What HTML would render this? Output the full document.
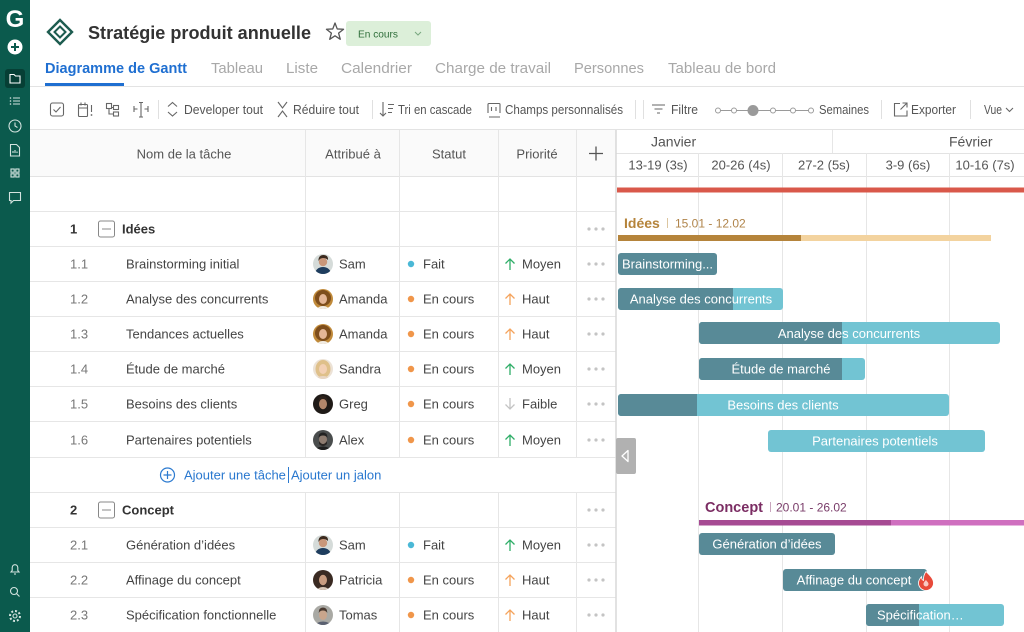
<!DOCTYPE html>
<html><head><meta charset="utf-8">
<style>
html,body{margin:0;padding:0;width:1024px;height:632px;overflow:hidden;background:#fff}
svg{display:block}
text{font-family:"Liberation Sans",sans-serif}
</style></head><body>
<svg width="1024" height="632" viewBox="0 0 1024 632" xmlns="http://www.w3.org/2000/svg">
<defs>
<clipPath id="av"><circle cx="0" cy="0" r="10"/></clipPath>
<g id="sam"><g clip-path="url(#av)"><rect x="-10" y="-10" width="20" height="20" fill="#d5dbd9"/><ellipse cx="0" cy="10" rx="8" ry="7" fill="#1e3d5e"/><circle cx="0" cy="-2" r="4.2" fill="#c9977a"/><path d="M-4.6 -3 q0 -6 5 -6 q5 0 4.6 5 q-2 -2 -5 -2 q-3 0 -4.6 3z" fill="#3b2a1e"/></g></g>
<g id="amanda"><g clip-path="url(#av)"><rect x="-10" y="-10" width="20" height="20" fill="#c08a3a"/><circle cx="0" cy="-1" r="8" fill="#7e4e1c"/><ellipse cx="0" cy="0" rx="4" ry="5" fill="#e4b696"/><ellipse cx="0" cy="11" rx="6" ry="4" fill="#f1ece4"/></g></g>
<g id="sandra"><g clip-path="url(#av)"><rect x="-10" y="-10" width="20" height="20" fill="#ece2d6"/><ellipse cx="0" cy="0" rx="7.5" ry="9" fill="#dfc08a"/><ellipse cx="0" cy="0" rx="4" ry="5" fill="#f3d0b4"/><ellipse cx="0" cy="11" rx="7" ry="4" fill="#e8d6c4"/></g></g>
<g id="greg"><g clip-path="url(#av)"><rect x="-10" y="-10" width="20" height="20" fill="#1f1a17"/><ellipse cx="0" cy="0" rx="4" ry="5.2" fill="#b2866a"/><path d="M-4.5 -2 q0 -6 4.5 -6 q4.5 0 4.5 6 q-1.5 -3 -4.5 -3 q-3 0 -4.5 3z" fill="#2e221b"/></g></g>
<g id="alex"><g clip-path="url(#av)"><rect x="-10" y="-10" width="20" height="20" fill="#4a4d4d"/><ellipse cx="0" cy="-0.5" rx="4" ry="5" fill="#8e7c70"/><path d="M-4 1 q4 6 8 0 v3 q-4 4 -8 0z" fill="#2a2624"/><path d="M-4.5 -2 q0 -5.5 4.5 -5.5 q4.5 0 4.5 5.5 q-1.5 -2.5 -4.5 -2.5 q-3 0 -4.5 2.5z" fill="#222"/><ellipse cx="0" cy="11" rx="8" ry="4.5" fill="#1e1e1e"/></g></g>
<g id="patricia"><g clip-path="url(#av)"><rect x="-10" y="-10" width="20" height="20" fill="#3a2a22"/><ellipse cx="0" cy="0" rx="4" ry="5.2" fill="#c99c80"/><ellipse cx="0" cy="11" rx="6" ry="4" fill="#d8c6b6"/></g></g>
<g id="tomas"><g clip-path="url(#av)"><rect x="-10" y="-10" width="20" height="20" fill="#a9a9a4"/><ellipse cx="0" cy="0" rx="4" ry="5" fill="#c9a58c"/><path d="M-4.3 -2 q0 -5.5 4.3 -5.5 q4.3 0 4.3 5.5 q-1.5 -2.5 -4.3 -2.5 q-3 0 -4.3 2.5z" fill="#4a3a30"/><ellipse cx="0" cy="11" rx="8" ry="4.5" fill="#5a6070"/></g></g>
</defs>

<!-- Sidebar -->
<rect x="0" y="0" width="30" height="632" fill="#0b5a4d"/>
<text x="15" y="27" font-size="24" font-weight="bold" fill="#fff" text-anchor="middle">G</text>
<circle cx="15" cy="47" r="7.5" fill="#fff"/>
<path d="M11 47h8M15 43v8" stroke="#0b5a4d" stroke-width="2"/>
<rect x="5" y="69" width="20" height="19" rx="3" fill="#063f35"/>
<path d="M10 74.5h4l1.5 1.5H20v7H10z" fill="none" stroke="#fff" stroke-width="1.1"/>
<g fill="none" stroke="#d3e3df" stroke-width="1.1">
<path d="M13 98h7M13 101h7M13 104h7"/>
<circle cx="15" cy="126" r="6"/><path d="M15 122.5V126l2.5 1.5"/>
<path d="M10.5 144.5h6l3 3v8.5h-9z"/><path d="M13 153v-2M15 153v-3M17 153v-1.5"/>
<rect x="11" y="169" width="3.2" height="3.2"/><rect x="15.8" y="169" width="3.2" height="3.2"/><rect x="11" y="173.8" width="3.2" height="3.2"/><rect x="15.8" y="173.8" width="3.2" height="3.2"/>
<path d="M9.5 192.5h11v8h-7l-2.5 2.5v-2.5h-1.5z"/>
<path d="M11 572h8l-1.2-1.5v-3a2.8 2.8 0 0 0-5.6 0v3z"/><path d="M14 574h2"/>
<circle cx="14" cy="591" r="3.5"/><path d="M16.5 593.5l3 3"/>
<circle cx="15" cy="616" r="2"/><circle cx="15" cy="616" r="5" stroke-width="2" stroke-dasharray="2 1.9"/>
</g>
<g fill="#d3e3df"><circle cx="10.5" cy="98" r=".8"/><circle cx="10.5" cy="101" r=".8"/><circle cx="10.5" cy="104" r=".8"/></g>

<!-- Header -->
<path d="M60 20 L72 32 L60 44 L48 32 Z" fill="none" stroke="#1d5c50" stroke-width="2.4"/>
<path d="M60 26.5 L65.5 32 L60 37.5 L54.5 32 Z" fill="none" stroke="#1d5c50" stroke-width="2"/>
<text x="88" y="39" font-size="18.5" font-weight="bold" fill="#333" textLength="223" lengthAdjust="spacingAndGlyphs">Stratégie produit annuelle</text>
<polygon points="335,23 337.23,28.93 343.56,29.22 338.61,33.17 340.29,39.28 335,35.8 329.71,39.28 331.39,33.17 326.44,29.22 332.77,28.93" fill="none" stroke="#555" stroke-width="1.3" stroke-linejoin="round"/>
<rect x="346" y="21" width="85" height="25" rx="3" fill="#dcefd9"/>
<text x="358" y="37.5" font-size="10.5" fill="#2f6e3a" textLength="40" lengthAdjust="spacingAndGlyphs">En cours</text>
<path d="M415 32l3 3 3-3" stroke="#7aa880" fill="none" stroke-width="1"/>

<!-- Tabs -->
<text x="45" y="73" font-size="14.5" font-weight="bold" fill="#1f6fd1" textLength="142" lengthAdjust="spacingAndGlyphs">Diagramme de Gantt</text>
<g font-size="15" fill="#a8a8a8">
<text x="211" y="73" textLength="52" lengthAdjust="spacingAndGlyphs">Tableau</text>
<text x="286" y="73" textLength="32" lengthAdjust="spacingAndGlyphs">Liste</text>
<text x="341" y="73" textLength="71" lengthAdjust="spacingAndGlyphs">Calendrier</text>
<text x="435" y="73" textLength="116" lengthAdjust="spacingAndGlyphs">Charge de travail</text>
<text x="574" y="73" textLength="70" lengthAdjust="spacingAndGlyphs">Personnes</text>
<text x="668" y="73" textLength="108" lengthAdjust="spacingAndGlyphs">Tableau de bord</text>
</g>
<rect x="45" y="83" width="79" height="3" fill="#1f6fd1"/>
<path d="M30 86.5H1024" stroke="#e3e3e3"/>

<!-- Toolbar -->
<g fill="none" stroke="#666" stroke-width="1.1">
<rect x="50.5" y="103" width="13" height="13" rx="2"/><path d="M53.5 109.5l2.5 2.5l4.5-5"/>
<rect x="78.5" y="104.5" width="9" height="12" rx="1"/><path d="M81 102.5v3M85 102.5v3M78.5 108h9M91.5 105v7"/>
<rect x="106.5" y="103.5" width="5" height="5"/><rect x="113.5" y="105.5" width="5" height="4"/><rect x="113.5" y="112" width="5" height="4"/><path d="M109 108.5v5.5h4.5M111.5 107.5h2"/>
<path d="M134 106v6M134 109h3.5M141 102.5v14.5M139 102.5h4M139 117h4M148 106v6M144.5 109h3.5"/>
<path d="M168 106.5l4.5-4l4.5 4M168 112l4.5 4l4.5-4"/>
<path d="M278 102l4.5 6l4.5-6M278 117l4.5-6l4.5 6"/>
<path d="M383 102v14M380 113l3 3l3-3M388 104.5h6M388 108.5h5M388 112.5h4"/>
<path d="M488 113v-8.5q0-1 1-1h10q1 0 1 1v8.5M491.5 107v4M496 107v4M489 117h11" />
<path d="M652 105h13M654.5 109h8M657 113h3"/>
<path d="M900 103.5h-5.5v12.5h12.5v-5.5M900.5 109.5l6.5-6.5M902.5 103h4.5v4.5"/>
<path d="M1006 108l3.5 3.5l3.5-3.5"/>
</g>
<circle cx="91.5" cy="115" r=".9" fill="#666"/>
<g stroke="#e0e0e0"><path d="M158.5 100v19M372.5 100v19M635.5 100v19M643.5 100v19M881.5 100v19M970.5 100v19"/></g>
<path d="M716 110.5H812" stroke="#9a9a9a" stroke-width="1"/>
<g fill="#fff" stroke="#9a9a9a" stroke-width="1"><circle cx="718" cy="110.5" r="2.5"/><circle cx="734" cy="110.5" r="2.5"/><circle cx="773" cy="110.5" r="2.5"/><circle cx="793" cy="110.5" r="2.5"/><circle cx="811" cy="110.5" r="2.5"/></g>
<circle cx="753" cy="110.5" r="5.5" fill="#9a9a9a"/>
<g font-size="12.5" fill="#555">
<text x="184" y="114" textLength="79" lengthAdjust="spacingAndGlyphs">Developer tout</text>
<text x="293" y="114" textLength="66" lengthAdjust="spacingAndGlyphs">Réduire tout</text>
<text x="398" y="114" textLength="74" lengthAdjust="spacingAndGlyphs">Tri en cascade</text>
<text x="505" y="114" textLength="118" lengthAdjust="spacingAndGlyphs">Champs personnalisés</text>
<text x="671" y="114" textLength="27" lengthAdjust="spacingAndGlyphs">Filtre</text>
<text x="819" y="114" textLength="50" lengthAdjust="spacingAndGlyphs">Semaines</text>
<text x="911" y="114" textLength="45" lengthAdjust="spacingAndGlyphs">Exporter</text>
<text x="984" y="114" textLength="18" lengthAdjust="spacingAndGlyphs">Vue</text>
</g>

<!-- Table header -->
<rect x="30" y="130" width="586" height="47" fill="#fafafa"/>
<path d="M30 129.5H1024M30 176.5H1024M616 153.5H1024" stroke="#e3e3e3"/>
<g font-size="13" fill="#555" text-anchor="middle">
<text x="184" y="158.5">Nom de la tâche</text>
<text x="353" y="158.5">Attribué à</text>
<text x="449" y="158.5">Statut</text>
<text x="537" y="158.5">Priorité</text>
</g>
<path d="M589 153.5h14M596 146.5v14" stroke="#555" stroke-width="1.3"/>
<g font-size="14" fill="#555"><text x="651" y="146.5">Janvier</text><text x="949" y="146.5">Février</text></g>
<g font-size="13" fill="#555" text-anchor="middle">
<text x="658" y="169.5">13-19 (3s)</text>
<text x="741" y="169.5">20-26 (4s)</text>
<text x="824" y="169.5">27-2 (5s)</text>
<text x="908" y="169.5">3-9 (6s)</text>
<text x="985" y="169.5">10-16 (7s)</text>
</g>

<!-- Grid lines -->
<g stroke="#e6e6e6" stroke-width="1">
<path d="M30 211.5H616M30 246.5H616M30 281.5H616M30 316.5H616M30 351.5H616M30 386.5H616M30 421.5H616M30 457.5H616M30 492.5H616M30 527.5H616M30 562.5H616M30 597.5H616"/>
<path d="M305.5 130V457M399.5 130V457M498.5 130V457M576.5 130V457M305.5 493V632M399.5 493V632M498.5 493V632M576.5 493V632"/>
<path d="M832.5 130V153M698.5 153V632M782.5 153V632M866.5 153V632M949.5 153V632"/>
</g>
<path d="M616 130V632" stroke="#d8d8d8" stroke-width="1.5"/>

<!-- Group rows -->
<g font-size="13" font-weight="bold" fill="#333">
<text x="70" y="233.5">1</text><text x="122" y="233.5">Idées</text>
<text x="70" y="514.5">2</text><text x="122" y="514.5">Concept</text>
</g>
<g fill="none" stroke="#888" stroke-width="1">
<rect x="98.5" y="221" width="16" height="16" rx="2"/><path d="M102 229h9"/>
<rect x="98.5" y="502" width="16" height="16" rx="2"/><path d="M102 510h9"/>
</g>

<!-- Ellipses -->
<g fill="#c4c4c4">
<circle cx="589" cy="229" r="1.6"/><circle cx="596" cy="229" r="1.6"/><circle cx="603" cy="229" r="1.6"/>
<circle cx="589" cy="264" r="1.6"/><circle cx="596" cy="264" r="1.6"/><circle cx="603" cy="264" r="1.6"/>
<circle cx="589" cy="299" r="1.6"/><circle cx="596" cy="299" r="1.6"/><circle cx="603" cy="299" r="1.6"/>
<circle cx="589" cy="334" r="1.6"/><circle cx="596" cy="334" r="1.6"/><circle cx="603" cy="334" r="1.6"/>
<circle cx="589" cy="369" r="1.6"/><circle cx="596" cy="369" r="1.6"/><circle cx="603" cy="369" r="1.6"/>
<circle cx="589" cy="404" r="1.6"/><circle cx="596" cy="404" r="1.6"/><circle cx="603" cy="404" r="1.6"/>
<circle cx="589" cy="440" r="1.6"/><circle cx="596" cy="440" r="1.6"/><circle cx="603" cy="440" r="1.6"/>
<circle cx="589" cy="510" r="1.6"/><circle cx="596" cy="510" r="1.6"/><circle cx="603" cy="510" r="1.6"/>
<circle cx="589" cy="545" r="1.6"/><circle cx="596" cy="545" r="1.6"/><circle cx="603" cy="545" r="1.6"/>
<circle cx="589" cy="580" r="1.6"/><circle cx="596" cy="580" r="1.6"/><circle cx="603" cy="580" r="1.6"/>
<circle cx="589" cy="615" r="1.6"/><circle cx="596" cy="615" r="1.6"/><circle cx="603" cy="615" r="1.6"/>
</g>

<!-- Row numbers & names -->
<g font-size="13" fill="#777">
<text x="70" y="268.5">1.1</text><text x="70" y="303.5">1.2</text><text x="70" y="338.5">1.3</text>
<text x="70" y="373.5">1.4</text><text x="70" y="408.5">1.5</text><text x="70" y="444.5">1.6</text>
<text x="70" y="549.5">2.1</text><text x="70" y="584.5">2.2</text><text x="70" y="619.5">2.3</text>
</g>
<g font-size="13" fill="#444">
<text x="126" y="268.5">Brainstorming initial</text>
<text x="126" y="303.5">Analyse des concurrents</text>
<text x="126" y="338.5">Tendances actuelles</text>
<text x="126" y="373.5">Étude de marché</text>
<text x="126" y="408.5">Besoins des clients</text>
<text x="126" y="444.5">Partenaires potentiels</text>
<text x="126" y="549.5">Génération d’idées</text>
<text x="126" y="584.5">Affinage du concept</text>
<text x="126" y="619.5">Spécification fonctionnelle</text>
</g>

<!-- Avatars -->
<use href="#sam" x="323" y="264"/>
<use href="#amanda" x="323" y="299"/>
<use href="#amanda" x="323" y="334"/>
<use href="#sandra" x="323" y="369"/>
<use href="#greg" x="323" y="404"/>
<use href="#alex" x="323" y="440"/>
<use href="#sam" x="323" y="545"/>
<use href="#patricia" x="323" y="580"/>
<use href="#tomas" x="323" y="615"/>
<g font-size="13" fill="#444">
<text x="339" y="268.5">Sam</text><text x="339" y="303.5">Amanda</text><text x="339" y="338.5">Amanda</text>
<text x="339" y="373.5">Sandra</text><text x="339" y="408.5">Greg</text><text x="339" y="444.5">Alex</text>
<text x="339" y="549.5">Sam</text><text x="339" y="584.5">Patricia</text><text x="339" y="619.5">Tomas</text>
</g>

<!-- Status -->
<g fill="#f0964a">
<circle cx="411" cy="299" r="3.2"/><circle cx="411" cy="334" r="3.2"/><circle cx="411" cy="369" r="3.2"/>
<circle cx="411" cy="404" r="3.2"/><circle cx="411" cy="440" r="3.2"/><circle cx="411" cy="580" r="3.2"/><circle cx="411" cy="615" r="3.2"/>
</g>
<g fill="#4ab8d6"><circle cx="411" cy="264" r="3.2"/><circle cx="411" cy="545" r="3.2"/></g>
<g font-size="13" fill="#444">
<text x="423" y="268.5">Fait</text><text x="423" y="303.5">En cours</text><text x="423" y="338.5">En cours</text>
<text x="423" y="373.5">En cours</text><text x="423" y="408.5">En cours</text><text x="423" y="444.5">En cours</text>
<text x="423" y="549.5">Fait</text><text x="423" y="584.5">En cours</text><text x="423" y="619.5">En cours</text>
</g>

<!-- Priority -->
<g fill="none" stroke-width="1.3">
<path d="M510 270v-11M505.5 263.5l4.5-4.5l4.5 4.5" stroke="#2fae68"/>
<path d="M510 305v-11M505.5 298.5l4.5-4.5l4.5 4.5" stroke="#f5a35c"/>
<path d="M510 340v-11M505.5 333.5l4.5-4.5l4.5 4.5" stroke="#f5a35c"/>
<path d="M510 375v-11M505.5 368.5l4.5-4.5l4.5 4.5" stroke="#2fae68"/>
<path d="M510 398v11M505.5 404.5l4.5 4.5l4.5-4.5" stroke="#c4c4c4"/>
<path d="M510 446v-11M505.5 439.5l4.5-4.5l4.5 4.5" stroke="#2fae68"/>
<path d="M510 551v-11M505.5 544.5l4.5-4.5l4.5 4.5" stroke="#2fae68"/>
<path d="M510 586v-11M505.5 579.5l4.5-4.5l4.5 4.5" stroke="#f5a35c"/>
<path d="M510 621v-11M505.5 614.5l4.5-4.5l4.5 4.5" stroke="#f5a35c"/>
</g>
<g font-size="13" fill="#444">
<text x="522" y="268.5">Moyen</text><text x="522" y="303.5">Haut</text><text x="522" y="338.5">Haut</text>
<text x="522" y="373.5">Moyen</text><text x="522" y="408.5">Faible</text><text x="522" y="444.5">Moyen</text>
<text x="522" y="549.5">Moyen</text><text x="522" y="584.5">Haut</text><text x="522" y="619.5">Haut</text>
</g>

<!-- Add task row -->
<circle cx="167.5" cy="475" r="7" fill="none" stroke="#2d7bd0" stroke-width="1.2"/>
<path d="M163.5 475h8M167.5 471v8" stroke="#2d7bd0" stroke-width="1.2"/>
<g font-size="13" fill="#2a78cf">
<text x="184" y="479.5">Ajouter une tâche</text>
<text x="291" y="479.5">Ajouter un jalon</text>
</g>
<path d="M288.5 467V483" stroke="#2a78cf" stroke-width="1"/>

<!-- Gantt -->
<rect x="617" y="187.5" width="407" height="5" fill="#d9584a"/>
<text x="624" y="228" font-size="14" font-weight="bold" fill="#b5843b">Idées</text>
<path d="M667.5 218v10" stroke="#dcc6a0"/>
<text x="675" y="227.5" font-size="12" fill="#b0844a">15.01 - 12.02</text>
<rect x="618" y="235" width="183" height="6" fill="#b5843b"/>
<rect x="801" y="235" width="190" height="6" fill="#f3d39f"/>

<g>
<rect x="618" y="253" width="99" height="22" rx="3" fill="#588a97"/>
<rect x="618" y="288" width="165" height="22" rx="3" fill="#72c4d3"/>
<rect x="618" y="288" width="115" height="22" rx="3" fill="#588a97"/><rect x="729" y="288" width="4" height="22" fill="#588a97"/>
<rect x="699" y="322" width="301" height="22" rx="3" fill="#72c4d3"/>
<rect x="699" y="322" width="143" height="22" rx="3" fill="#588a97"/><rect x="838" y="322" width="4" height="22" fill="#588a97"/>
<rect x="699" y="358" width="166" height="22" rx="3" fill="#72c4d3"/>
<rect x="699" y="358" width="143" height="22" rx="3" fill="#588a97"/><rect x="838" y="358" width="4" height="22" fill="#588a97"/>
<rect x="618" y="394" width="331" height="22" rx="3" fill="#72c4d3"/>
<rect x="618" y="394" width="79" height="22" rx="3" fill="#588a97"/><rect x="693" y="394" width="4" height="22" fill="#588a97"/>
<rect x="768" y="430" width="217" height="22" rx="3" fill="#72c4d3"/>
<rect x="699" y="533" width="136" height="22" rx="3" fill="#588a97"/>
<rect x="783" y="569" width="144" height="22" rx="3" fill="#588a97"/>
<rect x="866" y="604" width="138" height="22" rx="3" fill="#72c4d3"/>
<rect x="866" y="604" width="53" height="22" rx="3" fill="#588a97"/><rect x="915" y="604" width="4" height="22" fill="#588a97"/>
</g>
<g font-size="13" fill="#fff">
<text x="622" y="268.5">Brainstorming...</text>
<text x="701" y="303.5" text-anchor="middle">Analyse des concurrents</text>
<text x="849" y="338" text-anchor="middle">Analyse des concurrents</text>
<text x="781" y="373.5" text-anchor="middle">Étude de marché</text>
<text x="783" y="409.5" text-anchor="middle">Besoins des clients</text>
<text x="875" y="445.5" text-anchor="middle">Partenaires potentiels</text>
<text x="767" y="548.5" text-anchor="middle">Génération d’idées</text>
<text x="854" y="584.5" text-anchor="middle">Affinage du concept</text>
<text x="877" y="619.5">Spécification…</text>
</g>
<path d="M926 571.5c3.5 3.5 7.5 7 7.5 11.5a7.5 7.5 0 0 1-15 0c0-3 1.8-5 3-6.3c0 2 .8 3.3 2 3.8c-.3-3.5 .8-6.5 2.5-9z" fill="#e84a3a" stroke="#fff" stroke-width="0.8"/>
<path d="M926 586.5a2.5 2.5 0 0 1-2.5-2.5c0-1.5 1.5-3 2.5-4c.8 1.3 2.5 2.5 2.5 4a2.5 2.5 0 0 1-2.5 2.5z" fill="#fff" opacity=".7"/>

<rect x="616" y="438" width="20" height="36" rx="2" fill="#b1b1b1"/>
<path d="M628 450.5l-6 5.5l6 5.5z" fill="none" stroke="#fff" stroke-width="1.3" stroke-linejoin="round"/>

<text x="705" y="512" font-size="14.5" font-weight="bold" fill="#7b2d63">Concept</text>
<path d="M770.5 502v10" stroke="#c9a5bd"/>
<text x="776" y="511.5" font-size="12" fill="#7a3d6a">20.01 - 26.02</text>
<rect x="699" y="520" width="192" height="5.5" fill="#a64a93"/>
<rect x="891" y="520" width="133" height="5.5" fill="#cf6fbf"/>
</svg>
</body></html>
